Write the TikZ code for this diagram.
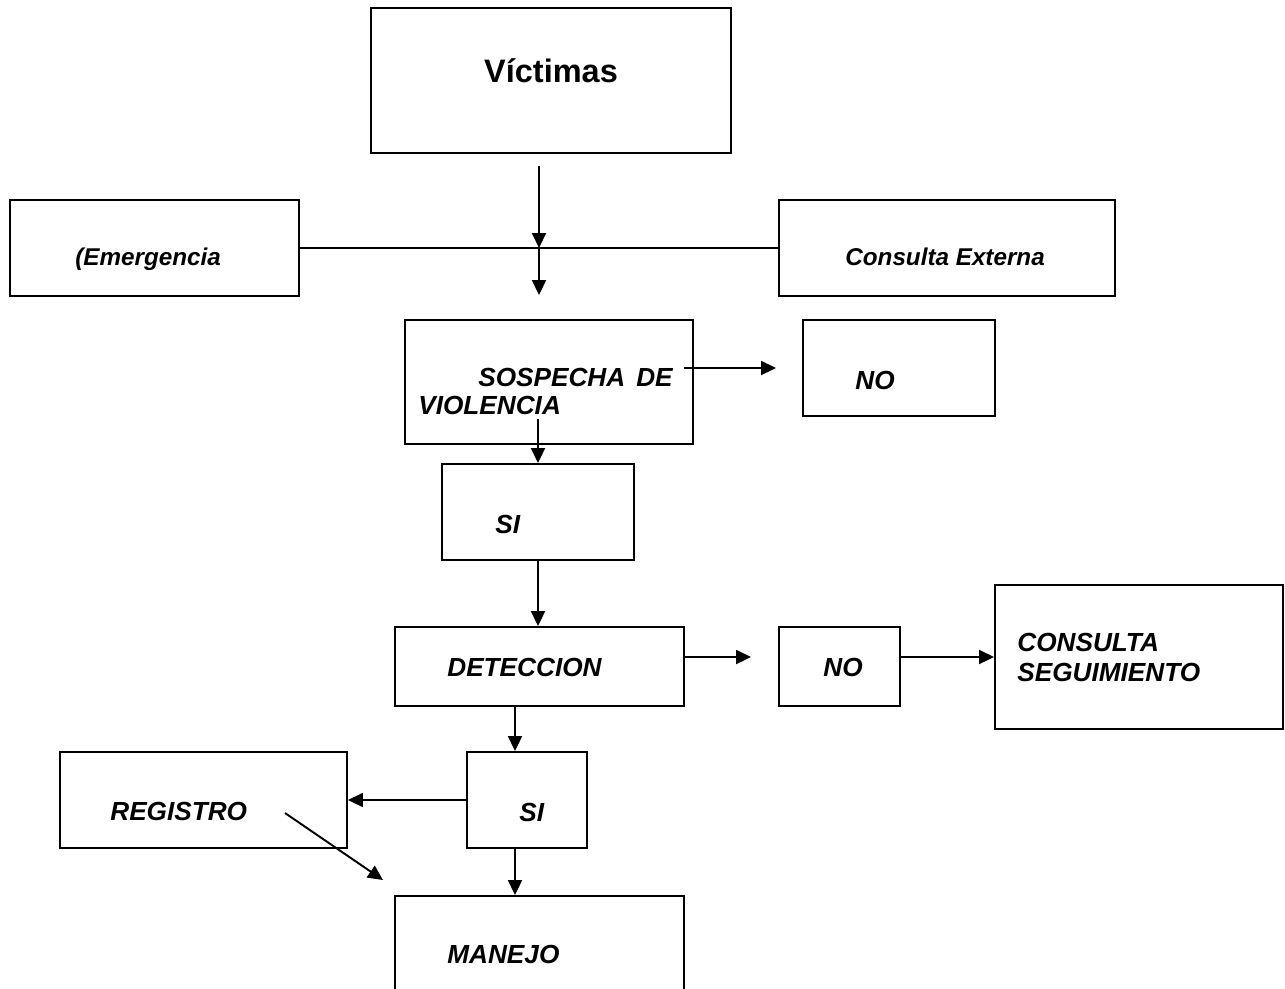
\documentclass[tikz,border=0pt]{standalone}
\usepackage{fontspec}
\setmainfont{Liberation Sans}
\usetikzlibrary{arrows.meta,positioning}
\tikzset{
  vbox/.style={draw=black, line width=1.1pt, inner sep=0pt},
  vtext/.style={font=\fontsize{14.9}{18}\selectfont\bfseries\itshape,
    inner sep=0pt, anchor=base west},
  vsmall/.style={vtext, font=\fontsize{13.8}{16.5}\selectfont\bfseries\itshape},
  varrow/.style={-{Triangle[length=0.30cm, width=0.28cm]}, line width=1.1pt}
}

\begin{document}
\begin{tikzpicture}
  \clip (0cm,0cm) rectangle (25.70cm,-19.76cm);
  % cajas
  \node[vbox, minimum width=7.20cm, minimum height=2.90cm] (vic) at (11.02cm,-1.61cm) {};
  \node[vbox, minimum width=5.78cm, minimum height=1.92cm] (emer) at (3.09cm,-4.96cm) {};
  \node[vbox, minimum width=6.72cm, minimum height=1.92cm] (cext) at (18.94cm,-4.96cm) {};
  \node[vbox, minimum width=5.76cm, minimum height=2.48cm] (sosp) at (10.98cm,-7.64cm) {};
  \node[vbox, minimum width=3.84cm, minimum height=1.92cm] (no1) at (17.98cm,-7.36cm) {};
  \node[vbox, minimum width=3.84cm, minimum height=1.92cm] (si1) at (10.76cm,-10.24cm) {};
  \node[vbox, minimum width=5.78cm, minimum height=1.58cm] (detec) at (10.79cm,-13.33cm) {};
  \node[vbox, minimum width=2.42cm, minimum height=1.58cm] (no2) at (16.79cm,-13.33cm) {};
  \node[vbox, minimum width=5.76cm, minimum height=2.88cm] (cons) at (22.78cm,-13.14cm) {};
  \node[vbox, minimum width=5.74cm, minimum height=1.92cm] (reg) at (4.07cm,-16.00cm) {};
  \node[vbox, minimum width=2.40cm, minimum height=1.92cm] (si2) at (10.54cm,-16.00cm) {};
  \node[vbox, minimum width=5.78cm, minimum height=2.48cm] (man) at (10.79cm,-19.16cm) {};
  % textos
  \node[vtext, anchor=base, font=\fontsize{18.5}{22}\selectfont\bfseries] (tvic) at (11.02cm,-1.64cm) {Víctimas};
  \node[vsmall] (temer) at (1.50cm,-5.30cm) {(Emergencia};
  \node[vsmall] (tcext) at (16.90cm,-5.30cm) {Consulta Externa};
  \node[vtext] (tsos1) at (9.56cm,-7.72cm) {SOSPECHA};
  \node[vtext, anchor=base east] (tsos2) at (13.46cm,-7.72cm) {DE};
  \node[vtext] (tsos3) at (8.36cm,-8.28cm) {VIOLENCIA};
  \node[vtext] (tno1) at (17.10cm,-7.78cm) {NO};
  \node[vtext] (tsi1) at (9.90cm,-10.66cm) {SI};
  \node[vtext] (tdet) at (8.94cm,-13.52cm) {DETECCION};
  \node[vtext] (tno2) at (16.46cm,-13.52cm) {NO};
  \node[vtext] (tcons1) at (20.34cm,-13.02cm) {CONSULTA};
  \node[vtext] (tcons2) at (20.34cm,-13.62cm) {SEGUIMIENTO};
  \node[vtext] (treg) at (2.20cm,-16.40cm) {REGISTRO};
  \node[vtext] (tsi2) at (10.38cm,-16.42cm) {SI};
  \node[vtext] (tman) at (8.94cm,-19.26cm) {MANEJO};
  % puntos libres
  \coordinate (hub) at (10.78cm,-4.96cm);
  \coordinate (sidx) at (10.30cm,-16.00cm);
  \coordinate (dgA) at (5.70cm,-16.26cm);
  \coordinate (dgB) at (7.66cm,-17.60cm);
  % flechas
  \draw[line width=1.1pt] (emer.east) -- (cext.west);
  \draw[varrow, shorten <=0.24cm] (hub |- vic.south) -- (hub);
  \draw[varrow, shorten >=0.48cm] (hub) -- (hub |- sosp.north);
  \draw[varrow, shorten <=-0.20cm, shorten >=0.52cm] (sosp.east |- no1.west) -- (no1.west);
  \draw[varrow, shorten <=-0.52cm] (si1.north |- sosp.south) -- (si1.north);
  \draw[varrow] (si1.south) -- (si1.south |- detec.north);
  \draw[varrow, shorten >=0.54cm] (detec.east |- cons.west) -- (no2.west |- cons.west);
  \draw[varrow] (no2.east |- cons.west) -- (cons.west);
  \draw[varrow] (sidx |- detec.south) -- (sidx |- si2.north);
  \draw[varrow] (si2.west) -- (reg.east);
  \draw[varrow] (sidx |- si2.south) -- (sidx |- man.north);
  \draw[varrow] (dgA) -- (dgB);
\end{tikzpicture}
\end{document}
